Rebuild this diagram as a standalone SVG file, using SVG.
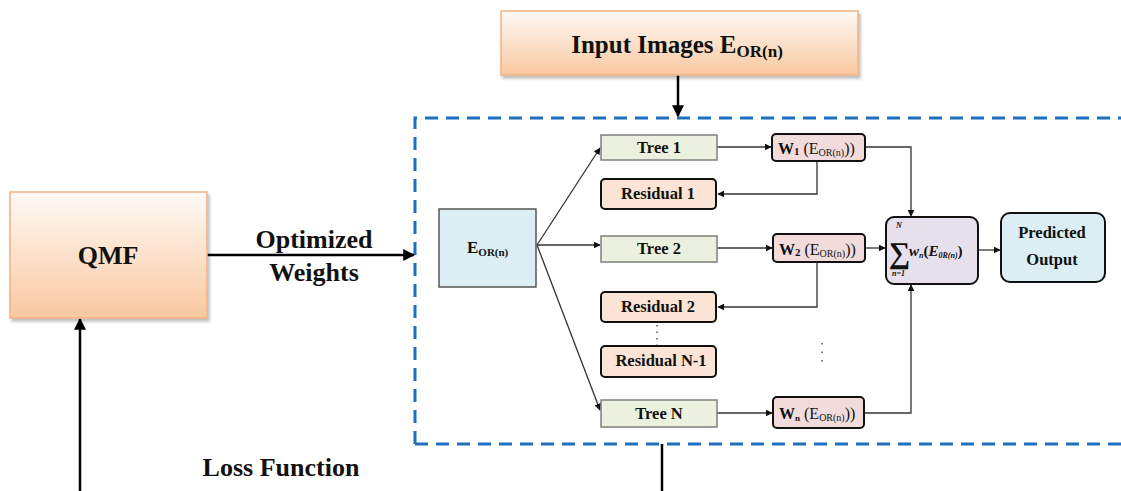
<svg xmlns="http://www.w3.org/2000/svg" width="1121" height="491" viewBox="0 0 1121 491">
<defs>
<linearGradient id="peach" x1="0" y1="0" x2="0" y2="1">
<stop offset="0" stop-color="#fefaf6"/>
<stop offset="1" stop-color="#f9c8a0"/>
</linearGradient>
<filter id="sh" x="-5%" y="-5%" width="115%" height="120%">
<feDropShadow dx="2" dy="3" stdDeviation="1.5" flood-color="#000" flood-opacity="0.25"/>
</filter>
<marker id="ah" viewBox="0 0 10 10" refX="9" refY="5" markerWidth="7" markerHeight="7" orient="auto" markerUnits="userSpaceOnUse">
<path d="M0,0 L10,5 L0,10 z" fill="#111"/>
</marker>
<marker id="ahb" viewBox="0 0 10 10" refX="9" refY="5" markerWidth="12" markerHeight="12" orient="auto" markerUnits="userSpaceOnUse">
<path d="M0,0 L10,5 L0,10 z" fill="#000"/>
</marker>
</defs>
<style>
text{font-family:"Liberation Serif","Times New Roman",serif;font-weight:bold;fill:#111;}
.big{font-size:26px;}
.mid{font-size:16.5px;}
.big-box{fill:url(#peach);stroke:#f4b183;stroke-width:1.5;filter:url(#sh);}
.tree{fill:#ebf1de;stroke:#7f7f7f;stroke-width:1.5;}
.res{fill:#fbe4d5;stroke:#111;stroke-width:2;}
.w{fill:#f2dcdb;stroke:#111;stroke-width:2;}
.thin{fill:none;stroke:#333;stroke-width:1.3;}
.thick{fill:none;stroke:#000;stroke-width:2.5;}
</style>
<rect width="1121" height="491" fill="#fff"/>

<g id="container">
<path d="M415,444 L415,118 L1125,118 M415,444 L1125,444" fill="none" stroke="#1f6fc0" stroke-width="3" stroke-dasharray="13,8"/>
</g>

<g id="connectors">
<line class="thick" x1="678" y1="75" x2="678" y2="116" marker-end="url(#ahb)"/>
<line class="thick" x1="207" y1="255" x2="414" y2="255" marker-end="url(#ahb)"/>
<line class="thick" x1="80" y1="491" x2="80" y2="319" marker-end="url(#ahb)"/>
<line class="thick" x1="662" y1="444" x2="662" y2="491"/>
<line class="thin" x1="537" y1="245" x2="600" y2="148" marker-end="url(#ah)"/>
<line class="thin" x1="537" y1="245" x2="600" y2="245" marker-end="url(#ah)"/>
<line class="thin" x1="537" y1="245" x2="600" y2="410" marker-end="url(#ah)"/>
<line class="thin" x1="717" y1="147" x2="771" y2="147" marker-end="url(#ah)"/>
<line class="thin" x1="717" y1="248" x2="772" y2="248" marker-end="url(#ah)"/>
<line class="thin" x1="717" y1="413" x2="772" y2="413" marker-end="url(#ah)"/>
<polyline class="thin" points="817,161 817,194 718,194" marker-end="url(#ah)"/>
<polyline class="thin" points="817,262 817,307 718,307" marker-end="url(#ah)"/>
<polyline class="thin" points="865,147 911,147 911,216" marker-end="url(#ah)"/>
<line class="thin" x1="865" y1="248" x2="885" y2="248" marker-end="url(#ah)"/>
<polyline class="thin" points="864,413 911,413 911,285" marker-end="url(#ah)"/>
<line class="thin" x1="978" y1="250" x2="1000" y2="250" marker-end="url(#ah)"/>
</g>

<g id="input-images">
<rect class="big-box" x="501" y="11" width="357" height="64"/>
<text x="677" y="53" text-anchor="middle" font-size="25">Input Images E<tspan font-size="17" dy="4">OR(n)</tspan></text>
</g>

<g id="qmf">
<rect class="big-box" x="10" y="192" width="197" height="126"/>
<text class="big" x="108" y="264" text-anchor="middle">QMF</text>
</g>

<g id="label-optimized">
<text class="big" x="314" y="248" text-anchor="middle">Optimized</text>
<text class="big" x="314" y="281" text-anchor="middle">Weights</text>
</g>

<g id="label-loss">
<text class="big" x="281" y="476" text-anchor="middle">Loss Function</text>
</g>

<g id="eor">
<rect x="439" y="209" width="97" height="78" fill="#dbeef4" stroke="#555" stroke-width="1.5"/>
<text x="467" y="253" font-size="17">E<tspan font-size="11" dy="3">OR(n)</tspan></text>
</g>

<g id="tree1">
<rect class="tree" x="601" y="135" width="116" height="25"/>
<text class="mid" x="659" y="153" text-anchor="middle">Tree 1</text>
</g>
<g id="residual1">
<rect class="res" x="601" y="179" width="115" height="30" rx="4"/>
<text class="mid" x="658" y="199" text-anchor="middle">Residual 1</text>
</g>
<g id="tree2">
<rect class="tree" x="601" y="236" width="116" height="26"/>
<text class="mid" x="659" y="254" text-anchor="middle">Tree 2</text>
</g>
<g id="residual2">
<rect class="res" x="601" y="292" width="115" height="30" rx="4"/>
<text class="mid" x="658" y="312" text-anchor="middle">Residual 2</text>
</g>
<g id="dots-left">
<line x1="657" y1="325" x2="657" y2="345" stroke="#555" stroke-width="1.5" stroke-dasharray="1.5,5"/>
</g>
<g id="residualN1">
<rect class="res" x="601" y="346" width="115" height="31" rx="4"/>
<text class="mid" x="661" y="366" text-anchor="middle">Residual N-1</text>
</g>
<g id="treeN">
<rect class="tree" x="601" y="400" width="116" height="27"/>
<text class="mid" x="659" y="419" text-anchor="middle">Tree N</text>
</g>

<g id="w1">
<rect class="w" x="772" y="134" width="93" height="27" rx="4"/>
<text x="778" y="154" font-size="16">W<tspan font-size="11" dy="1">1</tspan><tspan dy="-1" font-weight="normal"> (E</tspan><tspan font-size="10" font-weight="normal" dy="2">OR(n)</tspan><tspan dy="-2" font-weight="normal">)</tspan><tspan font-weight="normal">)</tspan></text>
</g>
<g id="w2">
<rect class="w" x="773" y="234" width="92" height="28" rx="4"/>
<text x="779" y="255" font-size="16">W<tspan font-size="11" dy="1">2</tspan><tspan dy="-1" font-weight="normal"> (E</tspan><tspan font-size="10" font-weight="normal" dy="2">OR(n)</tspan><tspan dy="-2" font-weight="normal">)</tspan><tspan font-weight="normal">)</tspan></text>
</g>
<g id="dots-right">
<line x1="822" y1="343" x2="822" y2="362" stroke="#555" stroke-width="1.5" stroke-dasharray="1.5,7"/>
</g>
<g id="wn">
<rect class="w" x="773" y="397" width="91" height="31" rx="4"/>
<text x="779" y="419" font-size="16">W<tspan font-size="9" dy="2">n</tspan><tspan dy="-2" font-weight="normal"> (E</tspan><tspan font-size="10" font-weight="normal" dy="2">OR(n)</tspan><tspan dy="-2" font-weight="normal">)</tspan><tspan font-weight="normal">)</tspan></text>
</g>

<g id="sum">
<rect x="886" y="217" width="92" height="67" rx="8" fill="#e6e0ec" stroke="#111" stroke-width="2"/>
<text x="896" y="228" font-size="8" font-style="italic" font-weight="normal">N</text>
<text x="889" y="263" font-size="30" font-weight="normal">∑</text>
<text x="892" y="276" font-size="8" font-style="italic" font-weight="normal">n=1</text>
<text x="909" y="256" font-size="15" font-style="italic" font-weight="normal">w<tspan font-size="8" dy="2">n</tspan><tspan dy="-2" font-style="normal">(</tspan>E<tspan font-size="8" dy="2">0R(n)</tspan><tspan dy="-2" font-style="normal">)</tspan></text>
</g>

<g id="predicted">
<rect x="1001" y="213" width="104" height="69" rx="9" fill="#daeef3" stroke="#111" stroke-width="2"/>
<text class="mid" x="1052" y="238" text-anchor="middle">Predicted</text>
<text class="mid" x="1052" y="265" text-anchor="middle">Output</text>
</g>
</svg>
